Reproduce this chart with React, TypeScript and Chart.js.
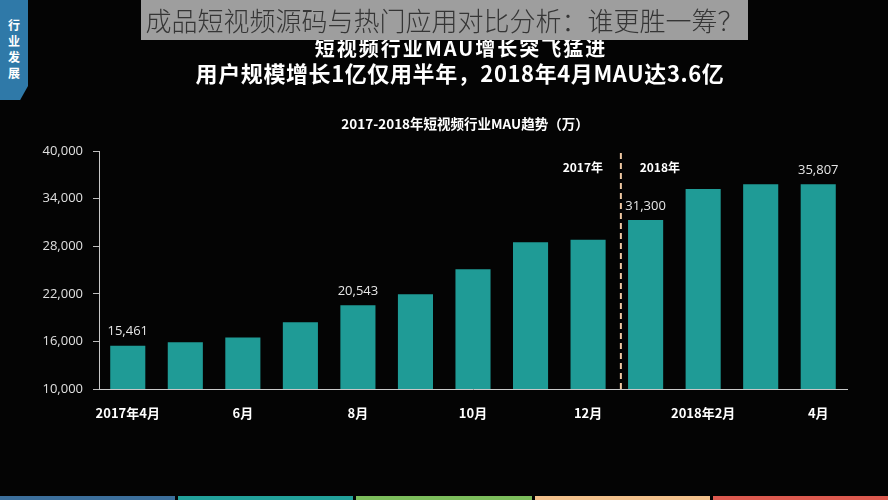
import React, { useEffect, useRef } from "react";
import { Chart, registerables } from "chart.js";

Chart.register(...registerables);

const categories = [
  "2017-04", "2017-05", "2017-06", "2017-07", "2017-08", "2017-09", "2017-10",
  "2017-11", "2017-12", "2018-01", "2018-02", "2018-03", "2018-04",
];
const mau = [15461, 15900, 16500, 18400, 20543, 21950, 25100, 28500, 28800, 31300, 35200, 35800, 35807];
const tickLabels = ["2017年4月", "", "6月", "", "8月", "", "10月", "", "12月", "", "2018年2月", "", "4月"];
const labeledIdx = [0, 4, 9, 12];
const yTicks = [10000, 16000, 22000, 28000, 34000, 40000];
const dividerAfter = 8;
const yearLabels = ["2017年", "2018年"];

const chartTitle = "2017-2018年短视频行业MAU趋势（万）";
const headline1 = "短视频行业MAU增长突飞猛进";
const headline2 = "用户规模增长1亿仅用半年，2018年4月MAU达3.6亿";
const overlayText = "成品短视频源码与热门应用对比分析：谁更胜一筹？";
const badgeText = ["行", "业", "发", "展"];
const stripColors = ["#3c6f9c", "#22a19b", "#7cbd5c", "#f2c08c", "#de5a50"];

const CJK = '"Noto Sans CJK SC", "Noto Sans", sans-serif';
const NUM = '"Open Sans", "Noto Sans CJK SC", sans-serif';

const decoPlugin = {
  id: "deco",
  afterDatasetsDraw(chart: any) {
    const { ctx, chartArea, scales } = chart;
    const meta = chart.getDatasetMeta(0);
    ctx.save();
    ctx.font = `13px ${NUM}`;
    ctx.fillStyle = "#e6e6e6";
    ctx.textAlign = "center";
    ctx.textBaseline = "middle";
    labeledIdx.forEach((i) => {
      const el = meta.data[i];
      ctx.fillText(mau[i].toLocaleString("en-US"), el.x, el.y - 14);
    });
    const xs = scales.x;
    const xA = xs.getPixelForValue(dividerAfter);
    const xB = xs.getPixelForValue(dividerAfter + 1);
    const dx = xA + (xB - xA) * 0.57;
    ctx.beginPath();
    ctx.setLineDash([6, 4]);
    ctx.strokeStyle = "#f0c9a3";
    ctx.lineWidth = 2;
    ctx.moveTo(dx, chartArea.top + 2);
    ctx.lineTo(dx, chartArea.bottom);
    ctx.stroke();
    ctx.setLineDash([]);
    ctx.font = `bold 12px ${CJK}`;
    ctx.fillStyle = "#ffffff";
    ctx.fillText(yearLabels[0], dx - 38, chartArea.top + 16);
    ctx.fillText(yearLabels[1], dx + 39, chartArea.top + 16);
    ctx.restore();
  },
};

function ChartCanvas() {
  const ref = useRef<HTMLCanvasElement | null>(null);
  useEffect(() => {
    if (!ref.current) return;
    const chart = new Chart(ref.current, {
      type: "bar",
      data: {
        labels: categories,
        datasets: [
          {
            data: mau,
            backgroundColor: "#1f9b96",
            borderWidth: 0,
            barPercentage: 0.61,
            categoryPercentage: 1,
          },
        ],
      },
      options: {
        animation: false,
        responsive: false,
        devicePixelRatio: 1,
        layout: { padding: { top: 151, right: 41, bottom: 0, left: 0 } },
        plugins: {
          legend: { display: false },
          tooltip: { enabled: false },
          title: { display: false },
        },
        scales: {
          x: {
            afterFit: (s: any) => {
              s.height = 111;
            },
            grid: { display: false },
            border: { display: true, color: "#c8c8c8", width: 1 },
            ticks: {
              autoSkip: false,
              maxRotation: 0,
              padding: 8,
              color: "#ffffff",
              font: { family: CJK, size: 13, weight: "bold" },
              callback: (_v: any, i: number) => tickLabels[i],
            },
          },
          y: {
            min: yTicks[0],
            max: yTicks[yTicks.length - 1],
            afterFit: (s: any) => {
              s.width = 99;
            },
            afterBuildTicks: (s: any) => {
              s.ticks = yTicks.map((v) => ({ value: v }));
            },
            grid: {
              display: true,
              drawOnChartArea: false,
              drawTicks: true,
              tickLength: 6,
              color: "#bdbdbd",
            },
            border: { display: true, color: "#c8c8c8", width: 1 },
            ticks: {
              padding: 10,
              color: "#e0e0e0",
              font: { family: NUM, size: 13 },
              callback: (v: any) => Number(v).toLocaleString("en-US"),
            },
          },
        },
      },
      plugins: [decoPlugin],
    });
    return () => chart.destroy();
  }, []);
  return <canvas ref={ref} width={888} height={500} style={{ position: "absolute", left: 0, top: 0, width: 888, height: 500 }} />;
}

export default function App() {
  return (
    <div style={{ position: "fixed", left: 0, top: 0, width: 888, height: 500, background: "#040404", overflow: "hidden" }}>
      <ChartCanvas />
      {/* left badge */}
      <div
        style={{
          position: "absolute", left: 0, top: 0, width: 28, height: 100, background: "#2f79a8",
          clipPath: "polygon(0 0, 100% 0, 100% 86%, 72% 100%, 0 100%)",
          color: "#fff", fontFamily: CJK, fontWeight: 700, fontSize: 12, lineHeight: "16px",
          textAlign: "center", paddingTop: 17, boxSizing: "border-box",
        }}
      >
        {badgeText.map((t, i) => (<div key={i}>{t}</div>))}
      </div>
      {/* headlines */}
      <div style={{ position: "absolute", left: 461, top: 34, transform: "translateX(-50%)", whiteSpace: "nowrap", color: "#fff", fontFamily: CJK, fontWeight: 700, fontSize: 20, letterSpacing: 2, lineHeight: "28px" }}>{headline1}</div>
      <div style={{ position: "absolute", left: 460, top: 58, transform: "translateX(-50%)", whiteSpace: "nowrap", color: "#fff", fontFamily: CJK, fontWeight: 700, fontSize: 22, letterSpacing: 0.6, lineHeight: "28px" }}>{headline2}</div>
      {/* overlay */}
      <div style={{ position: "absolute", left: 141, top: 0, width: 607, height: 40, background: "#9e9e9e", color: "#353535", fontFamily: CJK, fontWeight: 300, fontSize: 26, lineHeight: "40px", textAlign: "center", whiteSpace: "nowrap", overflow: "hidden" }}>{overlayText}</div>
      {/* chart title */}
      <div style={{ position: "absolute", left: 465, top: 114, transform: "translateX(-50%)", whiteSpace: "nowrap", color: "#fff", fontFamily: CJK, fontWeight: 700, fontSize: 13.5, lineHeight: "18px" }}>{chartTitle}</div>
      {/* bottom strip */}
      <div style={{ position: "absolute", left: 0, top: 496, width: 888, height: 4, display: "flex", gap: 3 }}>
        {stripColors.map((c, i) => (<div key={i} style={{ flex: 1, background: c }} />))}
      </div>
    </div>
  );
}
